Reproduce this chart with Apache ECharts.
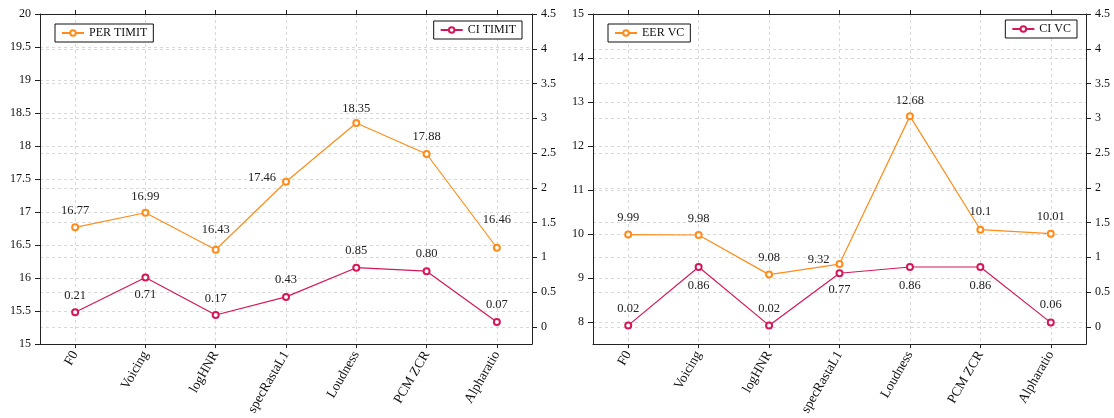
<!DOCTYPE html>
<html>
<head>
<meta charset="utf-8">
<script src="https://cdn.jsdelivr.net/npm/echarts@6/dist/echarts.min.js"></script>
<style>
html,body{margin:0;padding:0;background:#fff;}
#c{width:1114px;height:418px;}
</style>
</head>
<body>
<div id="c"></div>
<script>
// ---- data ----
const categories = ['F0','Voicing','logHNR','specRastaL1','Loudness','PCM ZCR','Alpharatio'];
const perTimit = [16.77, 16.99, 16.43, 17.46, 18.35, 17.88, 16.46];
const ciTimit  = [0.21, 0.71, 0.17, 0.43, 0.85, 0.80, 0.07];
const eerVc    = [9.99, 9.98, 9.08, 9.32, 12.68, 10.1, 10.01];
const ciVc     = [0.02, 0.86, 0.02, 0.77, 0.86, 0.86, 0.06];
const ciTickLabels  = [0, 0.5, 1, 1.5, 2, 2.5, 3, 3.5, 4, 4.5];
const eerTickLabels = [8, 9, 10, 11, 12, 13, 14, 15];

// ---- label placement (style only) ----
const perPos  = ['top','top','top','left','top','top','top'];
const perDist = [6,6,10,6,4,7,18];
const ciTPos  = ['top','bottom','top','top','top','top','top'];
const ciTDist = [6,7,6,7,6,7,7];
const eerPos  = ['top','top','top','left','top','top','top'];
const eerDist = [6,6,6,6,5,7,6];
const ciVPos  = ['top','bottom','top','bottom','bottom','bottom','top'];
const ciVDist = [6,8,6,6,8,8,7];

const FONT = 'Liberation Serif, serif';
const ORANGE = '#ff8c1a';
const CRIMSON = '#d5175a';
const GRIDC = '#d9d9d9';
const catIdx = categories.map((_, i) => i);

function mkData(vals, pos, dist) {
  return vals.map((v, i) => ({
    value: [i, v],
    label: { position: pos[i], distance: dist[i], offset: pos[i] === 'left' ? [0, -4] : [0, 0] }
  }));
}

function xAx(gi, bottom) {
  return {
    type: 'value', gridIndex: gi, position: bottom ? 'bottom' : 'top',
    min: -0.5, max: 6.5,
    axisLine: { show: true, onZero: false, lineStyle: { color: '#222', width: 1 } },
    axisTick: { show: true, inside: false, length: 4, customValues: catIdx, lineStyle: { color: '#222' } },
    axisLabel: bottom ? {
      show: true, customValues: catIdx, formatter: v => categories[Math.round(v)],
      rotate: 60, margin: 8, fontFamily: FONT, fontSize: 13.5, color: '#111'
    } : { show: false },
    splitLine: bottom ? { show: true, lineStyle: { type: [3, 3], color: GRIDC, width: 1 } } : { show: false }
  };
}

function yAx(gi, pos, min, max, ticks, interval) {
  const a = {
    type: 'value', gridIndex: gi, position: pos, min: min, max: max,
    axisLine: { show: true, onZero: false, lineStyle: { color: '#222', width: 1 } },
    axisTick: { show: true, inside: false, length: 5, lineStyle: { color: '#222' } },
    axisLabel: { show: true, margin: 9, fontFamily: FONT, fontSize: 12, color: '#111' },
    splitLine: { show: true, lineStyle: { type: [3, 3], color: GRIDC, width: 1 } }
  };
  if (ticks) { a.axisTick.customValues = ticks; a.axisLabel.customValues = ticks; }
  if (interval) a.interval = interval;
  return a;
}

function series(name, vals, xi, yi, color, pos, dist, fmt) {
  return {
    name: name, type: 'line', xAxisIndex: xi, yAxisIndex: yi,
    data: mkData(vals, pos, dist),
    symbol: 'emptyCircle', symbolSize: 6,
    lineStyle: { color: color, width: 1.2 },
    itemStyle: { color: color, borderColor: color, borderWidth: 1.2 },
    label: { show: true, fontFamily: FONT, fontSize: 12.5, color: '#222', formatter: p => fmt(p.value[1]) },
    emphasis: { disabled: true },
    z: 5
  };
}

function legend(name, pos) {
  return Object.assign({
    data: [name], orient: 'horizontal',
    padding: [3, 6], itemWidth: 22, itemHeight: 7, itemGap: 4,
    backgroundColor: '#fff', borderColor: '#111', borderWidth: 1, borderRadius: 0,
    textStyle: { fontFamily: FONT, fontSize: 12, color: '#111' },
    selectedMode: false
  }, pos);
}

const raw = v => String(v);
const two = v => v.toFixed(2);

const chart = echarts.init(document.getElementById('c'), null, { renderer: 'canvas' });
chart.setOption({
  animation: false,
  backgroundColor: '#fff',
  grid: [
    { left: 40, top: 14, width: 492, height: 334 },
    { left: 593, top: 14, width: 493, height: 334 }
  ],
  xAxis: [xAx(0, true), xAx(0, false), xAx(1, true), xAx(1, false)],
  yAxis: [
    yAx(0, 'left', 15, 20, null, 0.5),
    yAx(0, 'right', -0.25, 4.5, ciTickLabels),
    yAx(1, 'left', 7.5, 15, eerTickLabels),
    yAx(1, 'right', -0.25, 4.5, ciTickLabels)
  ],
  legend: [
    legend('PER TIMIT', { left: 55, top: 24 }),
    legend('CI TIMIT', { right: 592, top: 21 }),
    legend('EER VC', { left: 608, top: 24 }),
    legend('CI VC', { right: 37, top: 20 })
  ],
  series: [
    series('PER TIMIT', perTimit, 0, 0, ORANGE, perPos, perDist, raw),
    series('CI TIMIT', ciTimit, 0, 1, CRIMSON, ciTPos, ciTDist, two),
    series('EER VC', eerVc, 2, 2, ORANGE, eerPos, eerDist, raw),
    series('CI VC', ciVc, 2, 3, CRIMSON, ciVPos, ciVDist, two)
  ]
});
</script>
</body>
</html>
